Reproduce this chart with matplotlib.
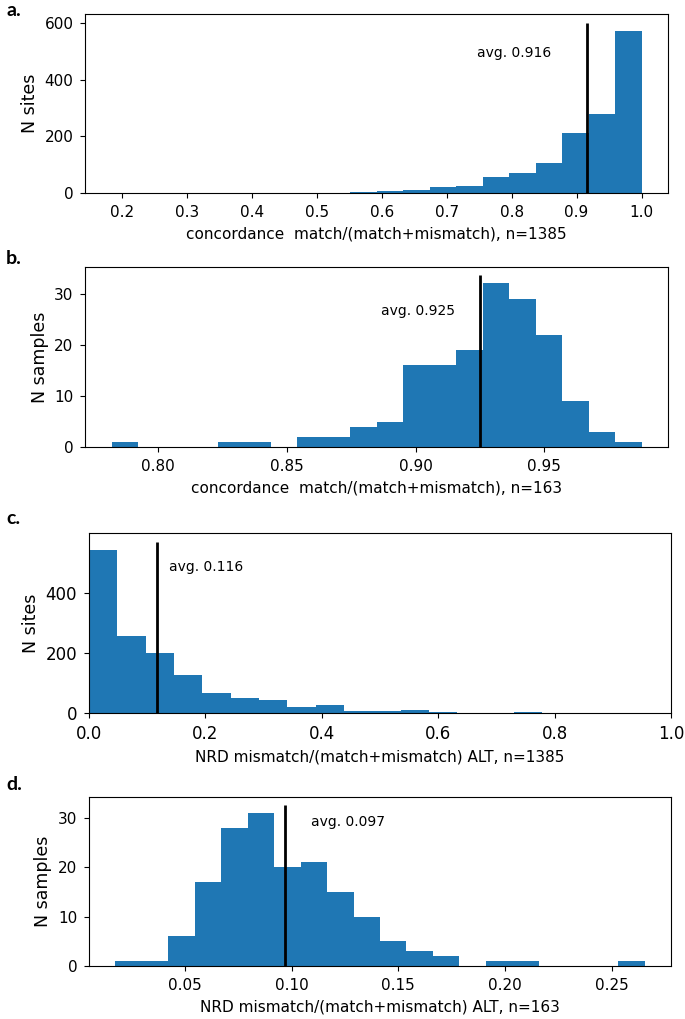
import numpy as np
import matplotlib
matplotlib.use("Agg")
import matplotlib.pyplot as plt
from matplotlib.ticker import MultipleLocator

# a. per-site concordance
conc_site_range = (0.184, 1.0)
conc_site_counts = [0, 0, 0, 0, 1, 0, 1, 2, 2, 6, 7, 13, 22, 25, 57, 73, 106, 213, 278, 572]
conc_site_avg = 0.916

# b. per-sample concordance
conc_samp_range = (0.782, 0.9877)
conc_samp_counts = [1, 0, 0, 0, 1, 1, 0, 2, 2, 4, 5, 16, 16, 19, 32, 29, 22, 9, 3, 1]
conc_samp_avg = 0.925

# c. per-site NRD
nrd_site_range = (0.0, 0.925)
nrd_site_counts = [542, 258, 200, 126, 68, 52, 44, 22, 29, 9, 8, 10, 4, 2, 0, 3, 0, 1, 1]
nrd_site_avg = 0.116

# d. per-sample NRD
nrd_samp_range = (0.0175, 0.2653)
nrd_samp_counts = [1, 1, 6, 17, 28, 31, 20, 21, 15, 10, 5, 3, 2, 0, 1, 1, 0, 0, 0, 1]
nrd_samp_avg = 0.097

W, H = 685, 1019
plt.rcParams.update({"font.size": 11, "font.family": "DejaVu Sans"})
fig = plt.figure(figsize=(W / 100, H / 100), dpi=100)


def px_axes(left, top, right, bottom):
    return fig.add_axes([left / W, 1 - bottom / H, (right - left) / W, (bottom - top) / H])


def draw(ax, rng, counts, avg, txy, xlabel, ylabel, tsize=11):
    edges = np.linspace(rng[0], rng[1], len(counts) + 1)
    ax.hist(edges[:-1], bins=edges, weights=counts, color="C0")
    ax.vlines(avg, 0, max(counts) * 1.05, color="black", lw=2)
    ax.text(txy[0], txy[1], f"avg. {avg:.3f}", fontsize=10, ha="left", va="center")
    ax.set_xlabel(xlabel, fontsize=11, labelpad=4.5)
    ax.set_ylabel(ylabel, fontsize=12.5)
    ax.tick_params(labelsize=tsize, pad=5)


ax = px_axes(85.3, 14, 668, 193.3)
draw(ax, conc_site_range, conc_site_counts, conc_site_avg, (0.746, 493),
     "concordance  match/(match+mismatch), n=1385", "N sites")

ax = px_axes(85.3, 266.7, 668, 447.3)
draw(ax, conc_samp_range, conc_samp_counts, conc_samp_avg, (0.8865, 26.6),
     "concordance  match/(match+mismatch), n=163", "N samples")

ax = px_axes(89, 533.3, 671, 713.3)
draw(ax, nrd_site_range, nrd_site_counts, nrd_site_avg, (0.137, 487),
     "NRD mismatch/(match+mismatch) ALT, n=1385", "N sites", tsize=12)
ax.set_xlim(0, 1)
ax.yaxis.set_major_locator(MultipleLocator(200))

ax = px_axes(89, 797, 671, 966)
draw(ax, nrd_samp_range, nrd_samp_counts, nrd_samp_avg, (0.1089, 29.2),
     "NRD mismatch/(match+mismatch) ALT, n=163", "N samples")

for lab, y in [("a.", 11), ("b.", 259), ("c.", 518), ("d.", 784)]:
    fig.text(6 / W, 1 - y / H, lab, family="Lato", weight="bold", fontsize=14,
             ha="left", va="center")

fig.savefig("out.png", dpi=100)
